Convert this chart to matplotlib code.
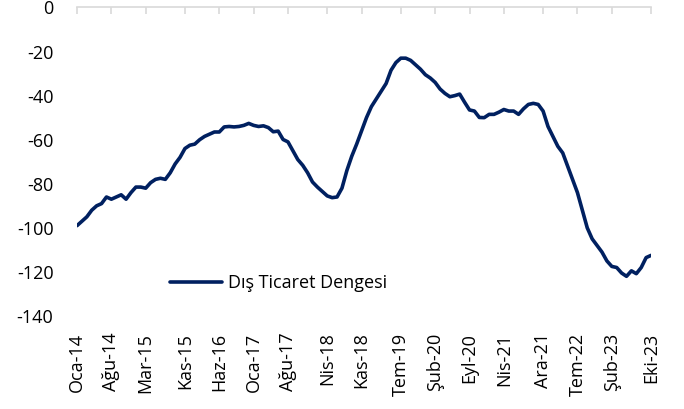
import numpy as np
import matplotlib
matplotlib.use("Agg")
import matplotlib.pyplot as plt

plt.rcParams['font.family'] = ['Open Sans', 'DejaVu Sans']
plt.rcParams['axes.unicode_minus'] = False

# Monthly trade balance, Jan 2014 .. Oct 2023
balance = [
    -99, -97, -95, -92, -90, -89, -86, -87, -86, -85,
    -87, -84, -81.5, -81.5, -82, -79.5, -78, -77.5, -78, -75,
    -71, -68, -64, -62.5, -62, -60, -58.5, -57.5, -56.5, -56.5,
    -54.2, -54, -54.2, -54, -53.5, -52.6, -53.5, -54, -53.7, -54.5,
    -56.4, -56.1, -59.9, -61, -65, -69, -71.6, -75, -79.2, -81.5,
    -83.5, -85.5, -86.3, -86, -82, -74, -67.5, -62, -56, -50,
    -45, -41.5, -38, -34.5, -28.5, -25, -23, -23, -24, -26,
    -28, -30.5, -32, -34, -37, -39, -40.5, -40, -39.3, -43,
    -46.5, -47, -49.9, -50, -48.5, -48.5, -47.5, -46.3, -47, -47,
    -48.5, -46, -44, -43.5, -44, -47, -54, -58.5, -63, -66,
    -72, -78, -84, -92, -100, -105, -108, -111, -115, -117.5,
    -118, -120.5, -122, -119.5, -120.8, -118, -113.5, -112.5,
]
tick_months = [0, 7, 14, 22, 29, 36, 43, 51, 58, 66, 73, 80, 87, 95, 102, 109, 117]
tick_labels = ['Oca-14', 'Ağu-14', 'Mar-15', 'Kas-15', 'Haz-16', 'Oca-17', 'Ağu-17',
               'Nis-18', 'Kas-18', 'Tem-19', 'Şub-20', 'Eyl-20', 'Nis-21', 'Ara-21',
               'Tem-22', 'Şub-23', 'Eki-23']
y_ticks = [0, -20, -40, -60, -80, -100, -120, -140]

fig = plt.figure(figsize=(6.84, 4.09), dpi=100)
ax = fig.add_axes([0.1126, 0.2274, 0.8392, 0.7543])

ax.plot(np.arange(len(balance)), balance, color='#002060', linewidth=2.6,
        solid_capstyle='round', label='Dış Ticaret Dengesi')

ax.set_xlim(0, 117)
ax.set_ylim(-140, 0)
ax.set_yticks(y_ticks)
ax.set_xticks(tick_months)
ax.set_xticklabels(tick_labels, rotation=90)

for s in ['left', 'right', 'bottom']:
    ax.spines[s].set_visible(False)
ax.spines['top'].set_color('#d9d9d9')
ax.spines['top'].set_linewidth(1.2)

ax.tick_params(axis='y', length=0, labelsize=13, pad=17)
ax.tick_params(axis='x', which='both', bottom=False, top=True, labelbottom=True,
               labeltop=False, direction='in', length=5, width=1.2,
               color='#d9d9d9', labelsize=13, pad=12)

ax.legend(loc='center left', bbox_to_anchor=(0.162, 0.107), frameon=False,
          fontsize=13, handlelength=2.9, handletextpad=0.3, borderpad=0,
          borderaxespad=0)

plt.savefig('out.png', dpi=100)
